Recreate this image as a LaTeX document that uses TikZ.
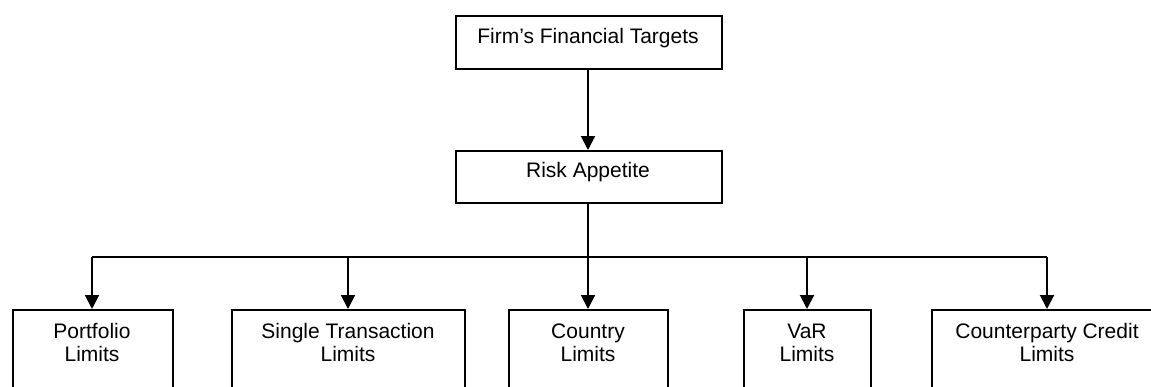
\documentclass[tikz,border=0pt]{standalone}
\usepackage{fontspec}
\setmainfont{Liberation Sans}
\usetikzlibrary{arrows.meta}
\begin{document}
\begin{tikzpicture}[x=1pt,y=-1pt,
  boxshape/.style={draw=black,line width=2pt,inner sep=0pt,anchor=north west},
  lbl/.style={inner sep=0pt,align=center,font=\fontsize{21}{23}\selectfont,anchor=base},
  conn/.style={line width=2pt,-{Triangle[width=14pt,length=14pt]}},
  wire/.style={line width=2pt}]
\useasboundingbox (0,0) rectangle (1151,386);
\clip (0,0) rectangle (1151,386);
\fill[white] (0,0) rectangle (1151,386);
% top boxes
\node[boxshape,minimum width=266,minimum height=53] (ft) at (455,15) {};
\node[lbl] (ftt) at (588,43) {Firm’s Financial Targets};
\node[boxshape,minimum width=266,minimum height=52] (ra) at (455,150) {};
\node[lbl] (rat) at (588,177) {Risk Appetite};
% bottom boxes
\node[boxshape,minimum width=160,minimum height=100] (pl) at (12,309) {};
\node[lbl] (plt) at (92,361) {Portfolio\\Limits};
\node[boxshape,minimum width=233,minimum height=100] (st) at (231,309) {};
\node[lbl] (stt) at (348,361) {Single Transaction\\Limits};
\node[boxshape,minimum width=159,minimum height=100] (cl) at (508,309) {};
\node[lbl] (clt) at (588,361) {Country\\Limits};
\node[boxshape,minimum width=127,minimum height=100] (vl) at (743,309) {};
\node[lbl] (vlt) at (807,361) {VaR\\Limits};
\node[boxshape,minimum width=232,minimum height=100] (cc) at (931,309) {};
\node[lbl] (cct) at (1047,361) {Counterparty Credit\\Limits};
% connectors
\coordinate (hub) at (588,257);
\coordinate (hl) at (92,257);
\coordinate (hr) at (1047,257);
\coordinate (h2) at (348,257);
\coordinate (h4) at (807,257);
\draw[conn] (ft.south -| hub) -- (ra.north -| hub);
\draw[wire] (ra.south -| hub) -- (hub);
\draw[wire] (hl) -- (hr);
\draw[conn] (hl) -- (hl |- pl.north);
\draw[conn] (h2) -- (h2 |- st.north);
\draw[conn] (hub) -- (hub |- cl.north);
\draw[conn] (h4) -- (h4 |- vl.north);
\draw[conn] (hr) -- (hr |- cc.north);
\end{tikzpicture}
\end{document}
